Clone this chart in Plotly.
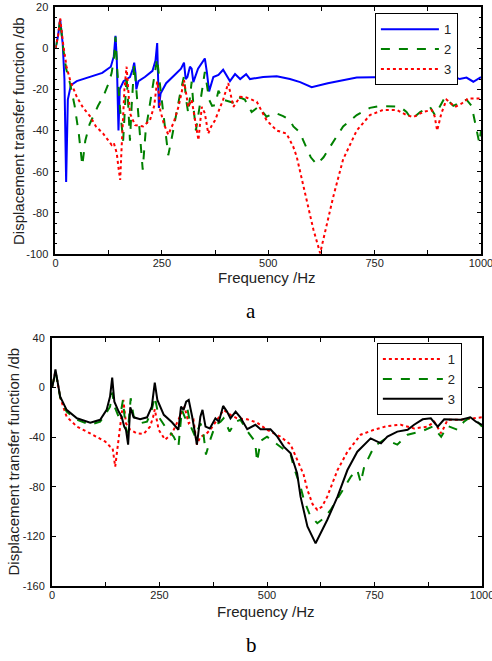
import plotly.graph_objects as go

# ---- chart a ----
freq_a1 = [0, 6, 11, 17, 21, 25, 29, 36, 50, 80, 110, 130, 137, 141, 144, 148, 151, 160, 175, 182, 185, 188,
           190, 195, 210, 228, 235, 239, 241, 243, 247, 260, 280, 295, 302, 306, 310, 316, 320, 324, 335, 345,
           351, 356, 361, 371, 383, 394, 410, 422, 434, 448, 457, 488, 520, 551, 575, 602, 640, 708, 786, 840,
           872, 911, 950, 966, 982, 1000]
db_a1 = [0, 6, 14, 2, -15, -65, -25, -18, -16, -14, -12, -9, -4, 6, -5, -40, -20, -16, -14, -10, -7, -12,
         -20, -16, -14, -11, -6, 2.5, -10, -29, -22, -17, -13, -10, -7, -15, -14, -9, -10, -16.5, -10, -7,
         -5, -12, -21, -14, -13, -10.5, -16, -12.6, -15, -12.6, -15, -14, -13.6, -15, -16.5, -19, -17, -14.3, -14, -13,
         -11.5, -11.5, -15, -14.3, -16.3, -14]

freq_a2 = [0, 6, 11, 18, 25, 34, 45, 55, 63, 70, 80, 89, 100, 112, 125, 132, 138, 141, 145, 152, 159, 163,
           167, 171, 175, 179, 185, 190, 197, 205, 212, 225, 234, 239, 244, 252, 265, 272, 285, 293, 302, 307,
           312, 316, 320, 325, 330, 336, 345, 351, 356, 361, 368, 375, 383, 394, 410, 426, 434, 445, 461, 477,
           496, 516, 535, 551, 559, 575, 582, 600, 614, 630, 645, 676, 708, 739, 763, 810, 825, 837, 857, 880,
           892, 915, 935, 966, 978, 990, 996, 1000]
db_a2 = [0, 6, 13.6, 0, -10, -17, -28, -42, -57, -45, -37, -33, -28, -23.6, -17, -12, -4, 5.5, -10, -30, -45, -30,
         -13, -28, -45, -28, -8, -20, -40, -59, -40, -22, -12, -5, -15, -30, -52, -45, -30, -22, -13.6, -25,
         -31.6, -25, -16.3, -30, -40, -32, -20, -11.5, -18, -25, -28, -27.7, -20.7, -25, -26, -27, -24, -25, -31, -28.5,
         -33.3, -31.4, -33, -35, -38, -41, -44.7, -53, -56.5, -53, -48, -38, -32.5, -29, -28, -28.5, -31, -34.6, -31, -28.5,
         -32.5, -24, -28, -25, -28, -41, -46, -40]

freq_a3 = [0, 6, 11, 18, 26, 35, 50, 65, 81, 95, 112, 125, 132, 137, 140, 144, 148, 152, 155, 158, 162, 167,
           171, 175, 187, 206, 222, 232, 236, 239, 243, 246, 255, 265, 278, 289, 296, 302, 307, 312, 320, 328,
           336, 340, 344, 351, 359, 366, 375, 394, 406, 418, 434, 449, 473, 496, 520, 543, 559, 567, 575, 586,
           606, 622, 637, 653, 676, 708, 739, 770, 802, 825, 841, 864, 884, 891, 897, 902, 907, 919, 939, 954,
           970, 1000]
db_a3 = [0, 6, 14.5, 2, -9, -16, -23.6, -29, -33, -38, -41.5, -45, -47, -46, -48, -51, -58, -64, -50, -33, -20, -9,
         -20, -31.6, -37.4, -38, -35, -28, -21, -16.3, -22, -30, -37, -42, -36, -28.5, -22, -15.5, -22, -28.5, -25, -35,
         -44.7, -36, -28.5, -31.6, -41.5, -38, -35, -25, -17, -28.5, -23.6, -24, -26, -35, -40, -41.5, -48, -52.8, -60, -69,
         -88, -99.6, -86.7, -72, -54, -40, -32.5, -30, -30, -32.5, -33.5, -31, -30, -33, -40, -35, -31.6, -25, -28.5, -27,
         -24.4, -24.4]

# ---- chart b ----
freq_b1 = [0, 4, 8, 13, 19, 34, 58, 81, 104, 124, 135, 141, 147, 151, 158, 166, 172, 182, 197, 213, 228, 235,
           239, 243, 248, 263, 279, 294, 302, 308, 318, 329, 337, 345, 357, 368, 384, 399, 415, 430, 454, 477,
           500, 531, 555, 570, 585, 594, 606, 617, 628, 640, 664, 687, 718, 749, 780, 811, 842, 873, 889, 905,
           920, 951, 982, 1000]
db_b1 = [0, 6, 13, 4, -8, -23.5, -31.5, -35.5, -39.6, -43.6, -47.6, -49, -63.8, -53, -31.5, -10, -28.8, -34, -36.9, -37.4, -31.5, -24,
         -17.5, -25, -34, -42, -37, -26, -20, -15.4, -28.8, -26, -46, -39.6, -38, -34, -26, -18, -22, -24.8, -25.6, -28.3,
         -34, -39.6, -46, -58, -70, -82.6, -94, -98.7, -96, -88, -66.5, -51.7, -38, -34, -31, -30, -33, -31.5, -27.5, -36.9,
         -26, -26, -24.8, -24]

freq_b2 = [0, 4, 8, 13, 19, 34, 58, 89, 112, 127, 135, 140, 145, 155, 160, 165, 171, 176, 183, 190, 205, 221,
           232, 239, 248, 263, 283, 294, 302, 310, 315, 323, 333, 345, 351, 358, 368, 380, 392, 399, 413, 427,
           438, 458, 469, 473, 477, 485, 500, 508, 531, 555, 563, 578, 586, 600, 617, 630, 648, 671, 695, 710,
           718, 726, 749, 773, 803, 827, 858, 885, 905, 920, 943, 958, 972, 989, 1000]
db_b2 = [0, 6, 13, 4, -8, -19.4, -26, -30, -27.5, -20, -15.4, -4, -15, -23.5, -20, -10, -31.5, -37, -8.6, -23.5, -28.8, -27.5,
         -18, -7.3, -23.5, -31.5, -39.6, -47.6, -18, -24.8, -17.5, -31.5, -39.6, -28.8, -34, -54, -42, -30, -27.5, -24.8, -35.5, -27.5,
         -26, -37, -42, -46, -59.8, -43, -39.6, -41.7, -47.6, -54, -65, -80, -90.6, -103, -109.4, -106, -98.7, -85, -71.8, -66.5,
         -76.7, -63.8, -47.6, -41.7, -46, -38, -35.5, -31.5, -39.6, -31, -34, -27.5, -24, -27.5, -31.5]

freq_b3 = [0, 4, 8, 13, 19, 34, 58, 89, 112, 127, 135, 140, 145, 155, 162, 168, 172, 177, 182, 190, 205, 221,
           232, 239, 245, 260, 279, 294, 300, 306, 312, 318, 326, 337, 345, 350, 357, 367, 380, 388, 398, 407,
           415, 427, 438, 454, 465, 473, 485, 508, 524, 539, 555, 563, 570, 578, 594, 613, 640, 664, 687, 710,
           741, 765, 780, 803, 827, 842, 862, 881, 897, 912, 935, 951, 973, 986, 1000]
db_b3 = [0, 6, 14.7, 5, -7.3, -18, -24.8, -28.3, -26, -18, -7.3, 8, -11.4, -19.4, -23.5, -31.5, -34, -46, -16, -24, -25.6, -24,
         -15.4, 4, -10, -22, -28, -34, -15.4, -18, -11.4, -10, -23.5, -46, -23.5, -18, -31.5, -33, -24.8, -27.5, -14.8, -19.4,
         -24.8, -19.4, -24, -33.6, -31.5, -30, -33.6, -33.6, -39.6, -47.6, -53, -61, -69, -88, -112, -125.6, -106.8, -88, -66.5, -51.7,
         -41, -45, -39.6, -35.5, -34, -30, -25.6, -24.8, -31.5, -25.6, -26, -26, -24, -27.5, -30]

# tick labels
x_ticks = [0, 125, 250, 375, 500, 625, 750, 875, 1000]
x_labels = ['0', '', '250', '', '500', '', '750', '', '1000']
ya_ticks = [20, 0, -20, -40, -60, -80, -100]
ya_labels = ['20', '0', '-20', '-40', '-60', '-80', '-100']
yb_ticks = [40, 0, -40, -80, -120, -160]
yb_labels = ['40', '0', '-40', '-80', '-120', '-160']
names_a = ['1', '2', '3']
names_b = ['1', '2', '3']

fig = go.Figure()

fig.add_trace(go.Scatter(x=freq_a1, y=db_a1, name=names_a[0], mode='lines',
                         line=dict(color='rgb(0,0,255)', width=2), xaxis='x', yaxis='y', legend='legend'))
fig.add_trace(go.Scatter(x=freq_a2, y=db_a2, name=names_a[1], mode='lines',
                         line=dict(color='rgb(0,128,0)', width=2, dash='dash'), xaxis='x', yaxis='y', legend='legend'))
fig.add_trace(go.Scatter(x=freq_a3, y=db_a3, name=names_a[2], mode='lines',
                         line=dict(color='rgb(255,0,0)', width=2, dash='dot'), xaxis='x', yaxis='y', legend='legend'))

fig.add_trace(go.Scatter(x=freq_b1, y=db_b1, name=names_b[0], mode='lines',
                         line=dict(color='rgb(255,0,0)', width=2, dash='dot'), xaxis='x2', yaxis='y2', legend='legend2'))
fig.add_trace(go.Scatter(x=freq_b2, y=db_b2, name=names_b[1], mode='lines',
                         line=dict(color='rgb(0,128,0)', width=2, dash='dash'), xaxis='x2', yaxis='y2', legend='legend2'))
fig.add_trace(go.Scatter(x=freq_b3, y=db_b3, name=names_b[2], mode='lines',
                         line=dict(color='black', width=2), xaxis='x2', yaxis='y2', legend='legend2'))

tick_font = dict(family='Arial, Liberation Sans, sans-serif', size=11, color='#222')
common = dict(showline=True, linecolor='black', linewidth=2, mirror='allticks', ticks='inside',
              ticklen=4, tickcolor='black', showgrid=False, zeroline=False, tickfont=tick_font,
              automargin=False, ticklabeloverflow='allow')
legend_font = dict(family='Arial, Liberation Sans, sans-serif', size=13, color='#222')

fig.update_layout(
    template='none',
    width=492, height=661, margin=dict(l=0, r=0, t=0, b=0),
    paper_bgcolor='white', plot_bgcolor='white', showlegend=True,
    xaxis=dict(domain=[0.1128, 0.9776], anchor='y', range=[0, 1000],
               tickvals=x_ticks, ticktext=x_labels, ticklabelstandoff=-2, **common),
    yaxis=dict(domain=[0.6157, 0.9894], anchor='x', range=[-100, 20],
               tickvals=ya_ticks, ticktext=ya_labels, ticklabelstandoff=3,
               minor=dict(dtick=5, ticks='inside', ticklen=2, tickcolor='black'), **common),
    xaxis2=dict(domain=[0.1057, 0.9797], anchor='y2', range=[0, 1000],
                tickvals=x_ticks, ticktext=x_labels, ticklabelstandoff=-2, **common),
    yaxis2=dict(domain=[0.1135, 0.4887], anchor='x2', range=[-160, 40],
                tickvals=yb_ticks, ticktext=yb_labels, ticklabelstandoff=3, **common),
    legend=dict(x=0.762, y=0.980, xanchor='left', yanchor='top', bgcolor='white',
                bordercolor='black', borderwidth=1, tracegroupgap=0, itemwidth=58,
                font=legend_font),
    legend2=dict(x=0.766, y=0.481, xanchor='left', yanchor='top', bgcolor='white',
                 bordercolor='black', borderwidth=1, tracegroupgap=0, itemwidth=60,
                 font=legend_font),
)

title_font = dict(family='Arial, Liberation Sans, sans-serif', size=15, color='#222')
ylab = 'Displacement transfer function /db'
ann = dict(xref='paper', yref='paper', showarrow=False, xanchor='center', yanchor='middle')
fig.add_annotation(text=ylab, textangle=-90, x=19 / 492, y=1 - 131 / 661, font=title_font, **ann)
fig.add_annotation(text=ylab, textangle=-90, x=13.5 / 492, y=1 - 462 / 661, font=title_font, **ann)
fig.add_annotation(text='Frequency /Hz', x=267 / 492, y=1 - 277 / 661, font=title_font, **ann)
fig.add_annotation(text='Frequency /Hz', x=266 / 492, y=1 - 611 / 661, font=title_font, **ann)
serif = dict(family='Times New Roman, Liberation Serif, serif', size=21, color='black')
fig.add_annotation(text='a', x=251 / 492, y=1 - 311 / 661, font=serif, **ann)
fig.add_annotation(text='b', x=251 / 492, y=1 - 645 / 661, font=serif, **ann)

# the page body has a default 8px margin; drop it so the figure sits at the window corner
fig.write_html("out.html", config={'displayModeBar': False},
               post_script="document.body.style.margin='0px';")
